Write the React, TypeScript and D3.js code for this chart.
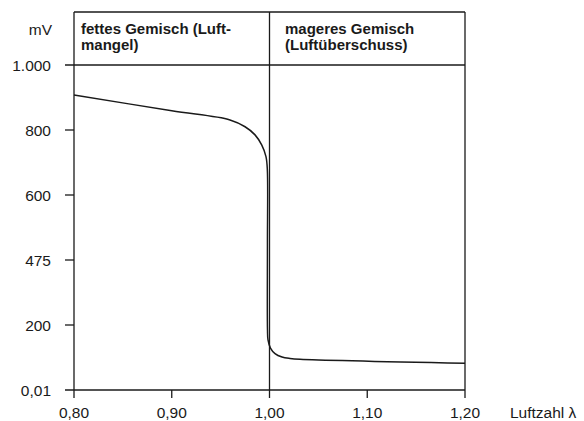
import React from 'react';
import { scaleLinear, line, curveCatmullRom } from 'd3';

// lambda sensor voltage curve (y in tick-position units)
const lambdaValues = [0.80, 0.90, 0.9596, 0.975, 0.9852, 0.992, 0.9964, 0.9978, 0.9979, 0.99795, 0.99847, 1.001, 1.00563, 1.01279, 1.02097, 1.0312, 1.20];
const voltValues = [908, 859, 831, 810, 785, 754, 718, 677, 450, 185, 154, 129, 112, 101.5, 97, 94.5, 82];

const xTicks = [0.8, 0.9, 1.0, 1.1, 1.2];
const xTickLabels = ['0,80', '0,90', '1,00', '1,10', '1,20'];
const yTicks = [0, 200, 400, 600, 800, 1000];
const yTickLabels = ['0,01', '200', '475', '600', '800', '1.000'];

const leftHeader = ['fettes Gemisch (Luft-', 'mangel)'];
const rightHeader = ['mageres Gemisch', '(Luftüberschuss)'];

const width = 584;
const height = 421;
const ink = '#1a1a1a';

const App = () => {
    const xScale = scaleLinear().domain([0.8, 1.2]).range([74, 465]);
    const yScale = scaleLinear().domain([0, 1000]).range([390, 65]);
    const top = 12;
    const tickBottom = 398;

    const pts = lambdaValues.map((l, i) => [l, voltValues[i]] as [number, number]);
    const path = line<[number, number]>()
        .x(d => xScale(d[0]))
        .y(d => yScale(d[1]))
        .curve(curveCatmullRom.alpha(0.5))(pts);

    const font = '"Liberation Sans", Arial, sans-serif';
    const fs = 15.5;

    return (
        <svg width={width} height={height} style={{ position: 'absolute', left: 0, top: 0 }}>
            <rect width={width} height={height} fill="white" />
            <g fontFamily={font} fill={ink}>
                {/* frame */}
                <line x1={xScale(0.8)} x2={xScale(1.2)} y1={top} y2={top} stroke={ink} strokeWidth={1.3} />
                {xTicks.filter((t, i) => i % 2 === 0).map(t => (
                    <line key={t} x1={xScale(t)} x2={xScale(t)} y1={top} y2={tickBottom} stroke={ink} strokeWidth={1.3} />
                ))}
                {xTicks.filter((t, i) => i % 2 === 1).map(t => (
                    <line key={t} x1={xScale(t)} x2={xScale(t)} y1={yScale(0)} y2={tickBottom} stroke={ink} strokeWidth={1.3} />
                ))}
                <line x1={65} x2={xScale(1.2)} y1={yScale(1000)} y2={yScale(1000)} stroke={ink} strokeWidth={1.3} />
                <line x1={65} x2={xScale(1.2)} y1={yScale(0)} y2={yScale(0)} stroke={ink} strokeWidth={1.3} />
                {yTicks.slice(1, 5).map(t => (
                    <line key={t} x1={65} x2={xScale(0.8)} y1={yScale(t)} y2={yScale(t)} stroke={ink} strokeWidth={1.3} />
                ))}

                {/* y labels */}
                <text x={52} y={35} fontSize={fs} textAnchor="end">mV</text>
                {yTicks.map((t, i) => (
                    <text key={t} x={51} y={yScale(t) + 5.5} fontSize={fs} textAnchor="end">{yTickLabels[i]}</text>
                ))}

                {/* x labels */}
                {xTicks.map((t, i) => (
                    <text key={t} x={xScale(t)} y={418} fontSize={fs} textAnchor="middle">{xTickLabels[i]}</text>
                ))}
                <text x={510} y={418} fontSize={fs}>Luftzahl  λ</text>

                {/* headers */}
                {leftHeader.map((s, i) => (
                    <text key={s} x={81} y={34 + i * 15.5} fontSize={15} fontWeight="bold">{s}</text>
                ))}
                {rightHeader.map((s, i) => (
                    <text key={s} x={285} y={34 + i * 15.5} fontSize={15} fontWeight="bold">{s}</text>
                ))}

                <path d={path || ''} fill="none" stroke={ink} strokeWidth={1.5} />
            </g>
        </svg>
    );
};

export default App;
